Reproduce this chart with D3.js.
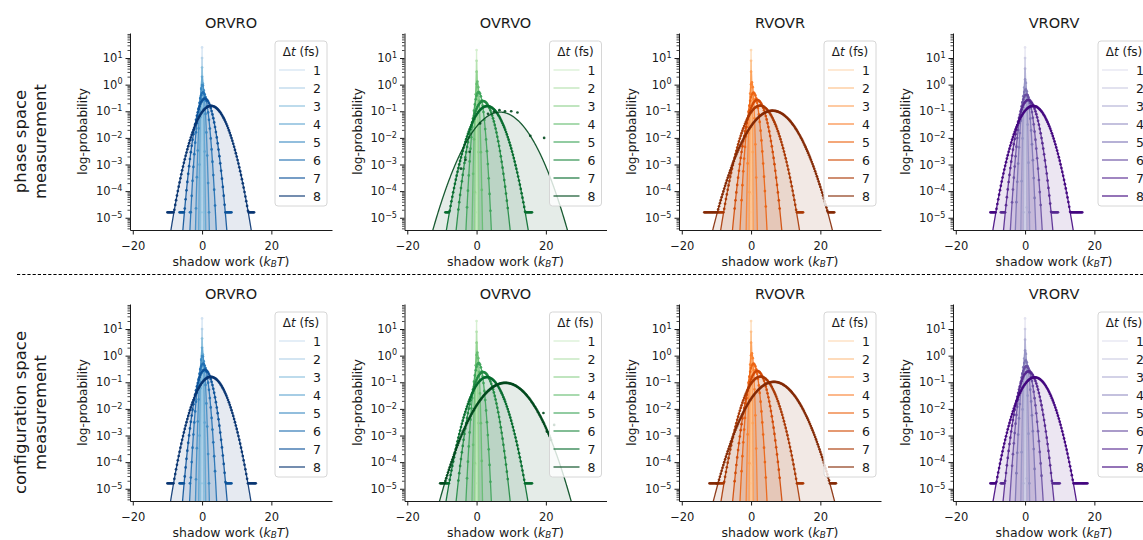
<!DOCTYPE html>
<html>
<head>
<meta charset="utf-8">
<script src="https://cdn.jsdelivr.net/npm/d3@7"></script>
<style>
    body { margin: 0; background: #fff; }
    svg { display: block; font-family: "DejaVu Sans", sans-serif; }
</style>
</head>
<body>
<div id="chart"></div>
<script>

// Chart values

const timeSteps = [1, 2, 3, 4, 5, 6, 7, 8];
const schemes = ["ORVRO", "OVRVO", "RVOVR", "VRORV"];
const rowLabels = [["phase space", "measurement"], ["configuration space", "measurement"]];
const yTickExps = [-5, -4, -3, -2, -1, 0, 1];
const xTicks = [-20, 0, 20];

// Gaussian fits (mean and std, in kT) per scheme (rows of each array) and per Δt
const phaseMean = [
    [0, 0, 0.01, 0.03, 0.1, 0.3, 0.8, 2.6],
    [0, 0.01, 0.05, 0.2, 0.6, 1.9, 3.1, 6.8],
    [0, 0.01, 0.05, 0.2, 0.7, 1.75, 2.6, 6.2],
    [0, 0, 0.01, 0.05, 0.15, 0.35, 0.9, 2.3]
];
const phaseSd = [
    [0.016, 0.04, 0.09, 0.2, 0.4, 0.78, 1.33, 2.5],
    [0.02, 0.05, 0.12, 0.3, 0.75, 1.65, 2.55, 4.3],
    [0.02, 0.05, 0.12, 0.32, 0.8, 1.5, 2.45, 3.8],
    [0.016, 0.04, 0.1, 0.25, 0.6, 0.95, 1.5, 2.5]
];
const configMean = [
    [0, 0, 0.01, 0.03, 0.1, 0.3, 0.8, 2.5],
    [0, 0.01, 0.05, 0.2, 0.6, 1.9, 3.0, 8.3],
    [0, 0.01, 0.05, 0.2, 0.7, 1.8, 2.7, 6.6],
    [0, 0, 0.01, 0.05, 0.15, 0.4, 1.0, 2.8]
];
const configSd = [
    [0.016, 0.04, 0.09, 0.2, 0.4, 0.8, 1.35, 2.5],
    [0.02, 0.05, 0.12, 0.3, 0.75, 1.65, 2.55, 4.2],
    [0.02, 0.05, 0.12, 0.32, 0.8, 1.5, 2.45, 3.85],
    [0.016, 0.04, 0.1, 0.25, 0.6, 1.0, 1.55, 2.6]
];

// range of shadow work where histogram points show up (null = listed below instead)
const phaseLo = [
    [0, -0.25, -0.5, -0.75, -1.75, -3.5, -6.5, -10],
    [0, -0.25, -0.5, -1, -2.75, -5.25, -9, null],
    [0, -0.25, -0.5, -1, -2.75, -4.75, -9.5, -13.5],
    [0, -0.25, -0.5, -1, -2.5, -3.75, -7, -10]
];
const phaseHi = [
    [0, 0.25, 0.5, 0.75, 2, 3.75, 8.5, 15],
    [0, 0.25, 0.5, 1.5, 4, 9, 16, null],
    [0, 0.25, 0.5, 1.5, 4.25, 8.25, 15, 24],
    [0, 0.25, 0.5, 1.25, 2.75, 4.5, 9.5, 16.5]
];
const configLo = [
    [0, -0.25, -0.5, -0.75, -1.75, -3.5, -6.5, -10],
    [0, -0.25, -0.5, -1, -2.75, -5.25, -9, -10.5],
    [0, -0.25, -0.5, -1, -2.75, -4.75, -10, -12],
    [0, -0.25, -0.5, -1, -2.5, -3.75, -7, -10]
];
const configHi = [
    [0, 0.25, 0.5, 0.75, 2, 3.75, 8.5, 15.5],
    [0, 0.25, 0.5, 1.5, 4, 9, 16, 21.5],
    [0, 0.25, 0.5, 1.5, 4.25, 8.25, 15, 24.5],
    [0, 0.25, 0.5, 1.25, 2.75, 4.75, 10, 18]
];

// sparse histogram of OVRVO, Δt = 8 fs (phase space) and stray points (configuration space)
const ovrvoPhaseSparse = [[-4.5, 7e-4], [-3.2, 1.5e-3], [-2, 3e-3], [1, 0.035], [3.3, 0.08], [5, 0.095],
    [6.6, 0.11], [8.2, 0.1], [10, 0.1], [11.8, 0.09], [15.5, 0.012], [19.5, 0.01]];
const ovrvoConfigStray = [[19.3, 7e-3], [20.3, 1.4e-3], [22.4, 2.5e-3]];

const histFloor = 1.6e-5;
const binWidth = 0.25;

// Layout

const w = 1143;
const h = 540;
const panelW = 202;
const panelH = 197;
const colX = [130, 404.5, 679, 953];
const rowY = [33, 304];
const textColor = "#1a1a1a";

const palettes = [d3.interpolateBlues, d3.interpolateGreens, d3.interpolateOranges, d3.interpolatePurples];
const colorFor = (col, i) => palettes[col](0.2 + i * 0.112);

const gauss = (v, m, s) => Math.exp(-0.5 * ((v - m) / s) ** 2) / (s * Math.sqrt(2 * Math.PI));

const svg = d3.select("#chart")
    .append("svg")
    .attr("width", w)
    .attr("height", h);

svg.append("rect").attr("width", w).attr("height", h).attr("fill", "#fff");

// dashed separator between the two rows
svg.append("line")
    .attr("x1", 17).attr("x2", w)
    .attr("y1", 274.5).attr("y2", 274.5)
    .attr("stroke", "#000")
    .attr("stroke-width", 1)
    .attr("stroke-dasharray", "3.2,2");

// row labels on the left
rowLabels.forEach((lines, r) => {
    const cy = rowY[r] + panelH / 2 + 10;
    [25.5, 46].forEach((bx, k) => {
        svg.append("text")
            .attr("transform", `translate(${bx},${cy}) rotate(-90)`)
            .attr("text-anchor", "middle")
            .attr("font-size", 16.5)
            .attr("fill", textColor)
            .text(lines[k]);
    });
});

const minorTicks = [];
d3.range(-6, 2).forEach(e => {
    for (let k = 2; k <= 9; k++) minorTicks.push(k * 10 ** e);
});

function drawPanel(r, col) {
    const x0 = colX[col];
    const y0 = rowY[r];
    const means = (r === 0 ? phaseMean : configMean)[col];
    const sds = (r === 0 ? phaseSd : configSd)[col];
    const los = (r === 0 ? phaseLo : configLo)[col];
    const his = (r === 0 ? phaseHi : configHi)[col];

    const xScale = d3.scaleLinear().domain([-20.8, 37.5]).range([x0, x0 + panelW]);
    const yScale = d3.scaleLog().domain([10 ** -5.46, 10 ** 1.94]).range([y0 + panelH, y0]);
    const yMinor = minorTicks.filter(t => t >= 10 ** -5.46 && t <= 10 ** 1.94);

    const clipId = `clip-${r}-${col}`;
    svg.append("clipPath").attr("id", clipId)
        .append("rect")
        .attr("x", x0).attr("y", y0 - 4)
        .attr("width", panelW).attr("height", panelH + 4);

    const plot = svg.append("g").attr("clip-path", `url(#${clipId})`);

    const curves = timeSteps.map((dt, i) => {
        const m = means[i], s = sds[i];
        return d3.range(0, 601).map(k => {
            const v = m - 6 * s + k * 12 * s / 600;
            return [v, Math.max(gauss(v, m, s), 1e-9)];
        });
    });

    const area = d3.area()
        .x(d => xScale(d[0]))
        .y0(y0 + panelH)
        .y1(d => yScale(d[1]));

    const line = d3.line()
        .x(d => xScale(d[0]))
        .y(d => yScale(d[1]));

    // shaded area under every fit
    plot.selectAll(".fill")
        .data(curves)
        .enter()
        .append("path")
        .attr("class", "fill")
        .attr("d", area)
        .attr("fill", (d, i) => colorFor(col, i))
        .attr("fill-opacity", 0.1);

    // histogram points and fitted lines
    timeSteps.forEach((dt, i) => {
        const color = colorFor(col, i);
        let pts;
        if (los[i] === null) {
            pts = ovrvoPhaseSparse;
        } else {
            pts = d3.range(los[i], his[i] + 0.001, binWidth)
                .map(v => [v, Math.max(gauss(v, means[i], sds[i]), histFloor)]);
            if (r === 1 && col === 1 && i === 7) pts = pts.concat(ovrvoConfigStray);
        }

        plot.append("g")
            .selectAll("circle")
            .data(pts)
            .enter()
            .append("circle")
            .attr("cx", d => xScale(d[0]))
            .attr("cy", d => yScale(d[1]))
            .attr("r", 1.35)
            .attr("fill", color)
            .attr("fill-opacity", 0.9);

        plot.append("path")
            .datum(curves[i])
            .attr("d", line)
            .attr("fill", "none")
            .attr("stroke", color)
            .attr("stroke-opacity", 0.9)
            .attr("stroke-width", 1.3);
    });

    // axes
    const xAxis = d3.axisBottom(xScale)
        .tickValues(xTicks)
        .tickSize(4.5)
        .tickSizeOuter(0)
        .tickPadding(7)
        .tickFormat(d => d < 0 ? "\u2212" + Math.abs(d) : d);

    const gx = svg.append("g")
        .attr("transform", `translate(0,${y0 + panelH})`)
        .call(xAxis);
    gx.select(".domain").attr("stroke", textColor);
    gx.selectAll(".tick line").attr("stroke", textColor);
    gx.selectAll(".tick text").attr("font-size", 11.5).attr("fill", textColor)
        .attr("font-family", "DejaVu Sans");

    const gyMinor = svg.append("g")
        .attr("transform", `translate(${x0},0)`)
        .call(d3.axisLeft(yScale).tickValues(yMinor).tickSize(2.5).tickFormat(""));
    gyMinor.select(".domain").remove();
    gyMinor.selectAll(".tick line").attr("stroke", textColor).attr("stroke-width", 0.8);

    const gy = svg.append("g")
        .attr("transform", `translate(${x0},0)`)
        .call(d3.axisLeft(yScale)
            .tickValues(yTickExps.map(e => 10 ** e))
            .tickSize(4.5)
            .tickSizeOuter(0)
            .tickPadding(3));
    gy.select(".domain").attr("stroke", textColor);
    gy.selectAll(".tick line").attr("stroke", textColor);
    gy.selectAll(".tick text")
        .attr("font-size", 11.5)
        .attr("fill", textColor)
        .attr("font-family", "DejaVu Sans")
        .each(function (d, k) {
            const e = yTickExps[k];
            const t = d3.select(this).text("10");
            t.append("tspan")
                .attr("dy", "-0.55em")
                .attr("font-size", "0.7em")
                .text(e < 0 ? "\u2212" + Math.abs(e) : e);
        });

    // labels
    svg.append("text")
        .attr("x", x0 + panelW / 2)
        .attr("y", y0 - 5.5)
        .attr("text-anchor", "middle")
        .attr("font-size", 14.5)
        .attr("fill", textColor)
        .text(schemes[col]);

    svg.append("text")
        .attr("transform", `translate(${x0 - 47},${y0 + panelH / 2}) rotate(-90)`)
        .attr("text-anchor", "middle")
        .attr("dominant-baseline", "central")
        .attr("font-size", 12)
        .attr("fill", textColor)
        .text("log-probability");

    const xl = svg.append("text")
        .attr("x", x0 + panelW / 2)
        .attr("y", y0 + panelH + 35.5)
        .attr("text-anchor", "middle")
        .attr("font-size", 12.5)
        .attr("fill", textColor)
        .text("shadow work (");
    xl.append("tspan").attr("font-style", "italic").text("k");
    xl.append("tspan").attr("font-style", "italic").attr("font-size", "0.7em").attr("dy", "0.2em").text("B");
    xl.append("tspan").attr("font-style", "italic").attr("dy", "-0.14em").text("T");
    xl.append("tspan").text(")");

    // legend
    const lx = x0 + 145;
    const ly = y0 + 8;
    const legend = svg.append("g");
    legend.append("rect")
        .attr("x", lx).attr("y", ly)
        .attr("width", 52).attr("height", 165)
        .attr("rx", 3)
        .attr("fill", "#fff").attr("fill-opacity", 0.8)
        .attr("stroke", "#d6d6d6");

    const lt = legend.append("text")
        .attr("x", lx + 26).attr("y", ly + 15)
        .attr("text-anchor", "middle")
        .attr("font-size", 12)
        .attr("fill", textColor)
        .text("\u0394");
    lt.append("tspan").attr("font-style", "italic").text("t");
    lt.append("tspan").text(" (fs)");

    legend.selectAll(".entry")
        .data(timeSteps)
        .enter()
        .append("g")
        .attr("class", "entry")
        .each(function (dt, i) {
            const g = d3.select(this);
            const yy = ly + 29 + i * 18;
            g.append("line")
                .attr("x1", lx + 4).attr("x2", lx + 30)
                .attr("y1", yy).attr("y2", yy)
                .attr("stroke", colorFor(col, i))
                .attr("stroke-opacity", 0.75)
                .attr("stroke-width", 1.5);
            g.append("text")
                .attr("x", lx + 38).attr("y", yy + 4.5)
                .attr("font-size", 12.5)
                .attr("fill", textColor)
                .text(dt);
        });
}

[0, 1].forEach(r => schemes.forEach((s, col) => drawPanel(r, col)));

</script>
</body>
</html>
